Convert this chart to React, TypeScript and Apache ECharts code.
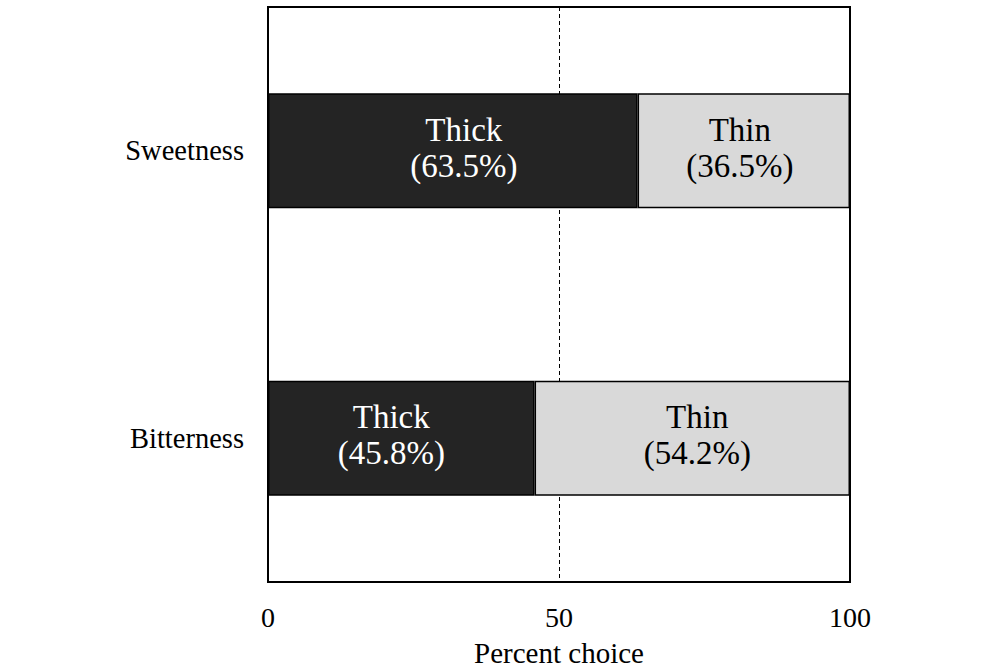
import React, { useEffect, useRef } from "react";
import * as echarts from "echarts";

const categories = ["Sweetness", "Bitterness"];
const thickValues = [63.5, 45.8];
const thinValues = [36.5, 54.2];
const xTicks = [0, 50, 100];

// label nudges (styling only)
const thickLabelShift = [11, -10];
const thinLabelShift = [-4, 5];

export default function App() {
  const ref = useRef<HTMLDivElement>(null);
  useEffect(() => {
    if (!ref.current) return;
    const chart = echarts.init(ref.current, undefined, { renderer: "svg" });
    const font = "'Liberation Serif', 'Times New Roman', serif";
    const mk = (vals: number[], shifts: number[]) =>
      vals.map((v, i) => ({ value: v, label: { offset: [shifts[i], -3] } }));
    chart.setOption({
      animation: false,
      textStyle: { fontFamily: font },
      grid: {
        left: 268,
        right: 150,
        top: 7,
        bottom: 85,
        show: true,
        borderColor: "#000",
        borderWidth: 2,
        backgroundColor: "transparent",
        outerBoundsMode: "none",
        containLabel: false,
      },
      xAxis: {
        type: "value",
        min: 0,
        max: 100,
        interval: 50,
        name: "Percent choice",
        nameLocation: "middle",
        nameGap: 56,
        nameTextStyle: { fontFamily: font, fontSize: 29, color: "#000" },
        axisLine: { show: true, lineStyle: { color: "#000", width: 2 } },
        axisTick: { show: false },
        axisLabel: {
          fontFamily: font,
          fontSize: 28,
          color: "#000",
          margin: 21,
          formatter: (v: number) => (xTicks.includes(v) ? String(v) : ""),
        },
        splitLine: {
          show: true,
          lineStyle: { color: "#000", type: [4, 3], width: 1 },
        },
      },
      yAxis: {
        type: "category",
        data: categories,
        inverse: true,
        axisLine: { show: true, lineStyle: { color: "#000", width: 2 } },
        axisTick: { show: false },
        axisLabel: { fontFamily: font, fontSize: 28.5, color: "#000", margin: 24 },
        splitLine: { show: false },
      },
      series: [
        {
          name: "Thick",
          type: "bar",
          stack: "total",
          barWidth: 115,
          data: mk(thickValues, thickLabelShift),
          itemStyle: { color: "#242424", borderColor: "#000", borderWidth: 1.5 },
          label: {
            show: true,
            position: "inside",
            color: "#fff",
            fontFamily: font,
            fontSize: 33,
            lineHeight: 36,
            formatter: (p: any) => `Thick\n(${p.value}%)`,
          },
        },
        {
          name: "Thin",
          type: "bar",
          stack: "total",
          barWidth: 115,
          data: mk(thinValues, thinLabelShift),
          itemStyle: { color: "#d9d9d9", borderColor: "#000", borderWidth: 1.5 },
          label: {
            show: true,
            position: "inside",
            color: "#000",
            fontFamily: font,
            fontSize: 33,
            lineHeight: 36,
            formatter: (p: any) => `Thin\n(${p.value}%)`,
          },
        },
      ],
    });
    return () => chart.dispose();
  }, []);
  return (
    <div
      ref={ref}
      style={{ position: "absolute", left: 0, top: 0, width: 1000, height: 667, background: "#fff" }}
    />
  );
}
